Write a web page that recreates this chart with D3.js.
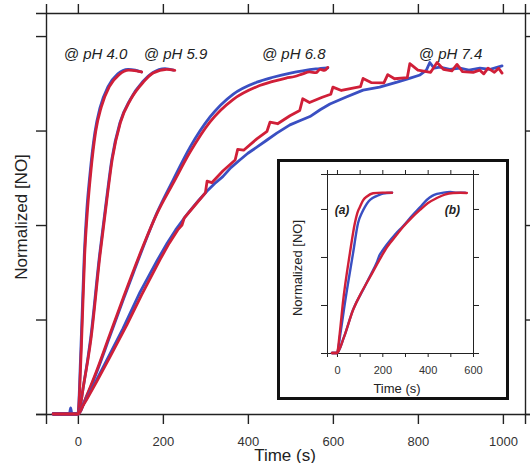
<!DOCTYPE html>
<html><head><meta charset="utf-8">
<script src="https://cdn.jsdelivr.net/npm/d3@7"></script>
<style>body{margin:0;background:#fff}svg{display:block}text{font-family:"Liberation Sans",Arial,sans-serif}</style>
</head><body><svg id="c" width="530" height="463"></svg>
<script>
// ---------- data (time in s, normalized [NO]) ----------
const xTicksMain = [0, 200, 400, 600, 800, 1000];
const yTicksMain = [0, 0.25, 0.5, 0.75, 1.0];
const labels = ["@ pH 4.0", "@ pH 5.9", "@ pH 6.8", "@ pH 7.4"];
const labelT = [-33, 155, 433, 802];

const ph40Blue = [[-58,0],[-20,0],[-17,0.016],[-14,0],[0,0],[7,0.17],[15,0.42],[21,0.54],[28,0.63],[40,0.745],[52,0.81],[71,0.866],[94,0.9],[118,0.912],[135,0.91],[150,0.905]];
const ph40Red  = [[-58,0],[0,0],[8,0.17],[16,0.42],[23,0.545],[30,0.635],[42,0.748],[55,0.812],[74,0.866],[97,0.898],[120,0.91],[138,0.908],[150,0.905]];
const ph59Blue = [[-58,0],[0,0],[14,0.08],[30,0.2],[51,0.42],[67,0.565],[80,0.675],[99,0.771],[123,0.832],[153,0.88],[176,0.903],[205,0.914],[225,0.91]];
const ph59Red  = [[-58,0],[0,0],[14,0.08],[31,0.2],[52,0.42],[68,0.565],[81,0.675],[100,0.771],[124,0.832],[154,0.878],[177,0.902],[209,0.912],[228,0.909]];
const ph68Blue = [[-58,0],[0,0],[20,0.045],[44,0.11],[75,0.205],[106,0.3],[130,0.372],[153,0.44],[186,0.532],[224,0.619],[264,0.706],[311,0.786],[365,0.846],[421,0.878],[459,0.891],[500,0.902],[529,0.908],[560,0.913],[588,0.916]];
const ph68Red  = [[-58,0],[0,0],[20,0.047],[44,0.114],[75,0.21],[106,0.305],[153,0.443],[186,0.53],[224,0.61],[264,0.693],[311,0.773],[365,0.832],[421,0.866],[459,0.88],[490,0.889],[510,0.893],[529,0.9],[545,0.905],[560,0.903],[570,0.912],[580,0.909],[588,0.917]];
const ph74Blue = [[-58,0],[0,0],[20,0.04],[44,0.09],[75,0.158],[106,0.226],[146,0.322],[186,0.405],[210,0.452],[230,0.487],[250,0.518],[264,0.538],[284,0.565],[304,0.59],[322,0.61],[341,0.628],[360,0.652],[381,0.672],[400,0.69],[421,0.706],[445,0.725],[468,0.743],[499,0.765],[522,0.776],[546,0.787],[570,0.805],[593,0.82],[630,0.838],[671,0.857],[710,0.865],[751,0.878],[780,0.888],[805,0.897],[820,0.91],[828,0.93],[838,0.915],[852,0.918],[875,0.912],[899,0.915],[920,0.91],[946,0.915],[970,0.912],[998,0.921]];
const ph74Red  = [[-58,0],[0,0],[20,0.037],[44,0.085],[75,0.15],[115,0.235],[150,0.315],[193,0.408],[215,0.452],[235,0.487],[245,0.5],[250,0.518],[270,0.545],[300,0.585],[304,0.616],[315,0.612],[341,0.643],[370,0.672],[376,0.7],[390,0.698],[421,0.728],[445,0.748],[452,0.772],[470,0.768],[499,0.789],[522,0.803],[529,0.834],[545,0.824],[575,0.838],[595,0.846],[600,0.865],[620,0.856],[650,0.863],[665,0.866],[671,0.888],[690,0.877],[720,0.876],[729,0.898],[745,0.887],[775,0.89],[781,0.927],[800,0.91],[830,0.904],[845,0.93],[860,0.912],[880,0.908],[892,0.925],[905,0.906],[930,0.904],[945,0.91],[955,0.9],[965,0.915],[980,0.904],[990,0.915],[998,0.902]];

// inset
const xTicksInset = [0, 200, 400, 600];
const xMinorInset = [0, 100, 200, 300, 400, 500, 600];
const yTicksInset = [0, 0.25, 0.5, 0.75];
const insetA_Blue = [[-22,0],[0,0],[15,0.1],[35,0.26],[71,0.52],[93,0.677],[110,0.73],[124,0.762],[140,0.79],[159,0.808],[180,0.82],[203,0.83],[243,0.834]];
const insetA_Red  = [[-22,0],[0,0],[12,0.1],[26,0.26],[57,0.52],[79,0.677],[90,0.73],[101,0.76],[115,0.795],[132,0.815],[159,0.832],[200,0.835],[243,0.834]];
const insetB_Blue = [[-22,0],[0,0],[30,0.08],[71,0.226],[120,0.34],[150,0.41],[175,0.47],[187,0.508],[202,0.535],[221,0.566],[260,0.622],[291,0.66],[330,0.713],[366,0.758],[397,0.798],[420,0.818],[441,0.828],[470,0.835],[500,0.838],[530,0.834],[565,0.835]];
const insetB_Red  = [[-22,0],[0,0],[30,0.08],[71,0.224],[110,0.32],[146,0.396],[185,0.48],[221,0.552],[260,0.61],[291,0.656],[330,0.705],[366,0.745],[400,0.78],[441,0.807],[475,0.825],[512,0.833],[545,0.834],[573,0.833]];

// ---------- drawing ----------
const svg = d3.select("#c");
const BLUE = "#3a4fc2", RED = "#d01f38", AX = "#222";

// main scales
const x = d3.scaleLinear().domain([-75, 1052]).range([46, 525]);
const y = d3.scaleLinear().domain([0, 1.061]).range([414, 13]);

const g = svg.append("g");
const axBottom = g.append("g").attr("transform", `translate(0,${y(0)})`)
  .call(d3.axisBottom(x).tickValues(xTicksMain).tickSize(10).tickPadding(13).tickFormat(d3.format("d")));
const axTop = g.append("g").attr("transform", `translate(0,${y(1.061)})`)
  .call(d3.axisTop(x).tickValues(xTicksMain).tickSize(9).tickFormat(""));
const axLeft = g.append("g").attr("transform", `translate(${x(-75)},0)`)
  .call(d3.axisLeft(y).tickValues(yTicksMain).tickSize(10).tickFormat(""));
const axRight = g.append("g").attr("transform", `translate(${x(1052)},0)`)
  .call(d3.axisRight(y).tickValues(yTicksMain).tickSize(10).tickFormat(""));
[axBottom, axTop, axLeft, axRight].forEach(a => {
  a.selectAll(".domain").attr("stroke", AX).attr("stroke-width", 1.4);
  a.selectAll(".tick line").attr("stroke", AX).attr("stroke-width", 1.4);
});
axBottom.selectAll(".tick text").attr("font-size", 13).attr("fill", "#333")
  .attr("font-family", '"Liberation Sans",Arial,sans-serif');

g.append("text").attr("x", 285).attr("y", 461).attr("text-anchor", "middle")
  .attr("font-size", 17).attr("fill", AX).text("Time (s)");
g.append("text").attr("transform", "translate(27,217) rotate(-90)").attr("text-anchor", "middle")
  .attr("font-size", 17).attr("fill", AX).text("Normalized [NO]");

// curves
const lineM = d3.line().x(d => x(d[0])).y(d => y(d[1]));
const smooth = d3.line().x(d => x(d[0])).y(d => y(d[1])).curve(d3.curveMonotoneX);
const series = [
  [ph40Blue, BLUE, smooth], [ph40Red, RED, smooth],
  [ph59Blue, BLUE, smooth], [ph59Red, RED, smooth],
  [ph68Blue, BLUE, smooth], [ph68Red, RED, smooth],
  [ph74Blue, BLUE, lineM], [ph74Red, RED, lineM]
];
series.forEach(([d, c, gen]) => {
  g.append("path").attr("d", gen(d)).attr("fill", "none").attr("stroke", c)
    .attr("stroke-width", 2.8).attr("stroke-linejoin", "round").attr("stroke-linecap", "round");
});

labels.forEach((t, i) => {
  g.append("text").attr("x", x(labelT[i])).attr("y", 59).attr("font-size", 15)
    .attr("font-style", "italic").attr("fill", AX).text(t);
});

// inset
const ib = svg.append("g");
ib.append("rect").attr("x", 278.5).attr("y", 160.5).attr("width", 229).attr("height", 238)
  .attr("fill", "#fff").attr("stroke", "#111").attr("stroke-width", 3);

const xi = d3.scaleLinear().domain([-44, 600]).range([327, 473]);
const yi = d3.scaleLinear().domain([0, 0.932]).range([353, 174]);

const ibot = ib.append("g").attr("transform", `translate(0,${yi(0)})`)
  .call(d3.axisBottom(xi).tickValues(xMinorInset).tickSize(4).tickFormat(""));
const ibotL = ib.append("g").attr("transform", `translate(0,${yi(0)})`)
  .call(d3.axisBottom(xi).tickValues(xTicksInset).tickSize(0).tickPadding(13).tickFormat(d3.format("d")));
ibotL.select(".domain").remove();
const itop = ib.append("g").attr("transform", `translate(0,${yi(0.932)})`)
  .call(d3.axisTop(xi).tickValues(xMinorInset).tickSize(4).tickFormat(""));
const ileft = ib.append("g").attr("transform", `translate(${xi(-44)},0)`)
  .call(d3.axisLeft(yi).tickValues(yTicksInset).tickSize(6).tickFormat(""));
const iright = ib.append("g").attr("transform", `translate(${xi(600)},0)`)
  .call(d3.axisRight(yi).tickValues(yTicksInset).tickSize(6).tickFormat(""));
[ibot, itop, ileft, iright].forEach(a => {
  a.selectAll(".domain").attr("stroke", AX).attr("stroke-width", 1);
  a.selectAll(".tick line").attr("stroke", AX).attr("stroke-width", 1);
});
ibotL.selectAll(".tick text").attr("font-size", 11).attr("fill", "#333")
  .attr("font-family", '"Liberation Sans",Arial,sans-serif');

ib.append("text").attr("x", 397).attr("y", 393).attr("text-anchor", "middle")
  .attr("font-size", 13).attr("fill", AX).text("Time (s)");
ib.append("text").attr("transform", "translate(302,268) rotate(-90)").attr("text-anchor", "middle")
  .attr("font-size", 13).attr("fill", AX).text("Normalized [NO]");
ib.append("text").attr("x", xi(-10)).attr("y", yi(0.75) + 5).attr("font-size", 12)
  .attr("font-style", "italic").attr("font-weight", "bold").attr("fill", AX).text("(a)");
ib.append("text").attr("x", xi(475)).attr("y", yi(0.75) + 5).attr("font-size", 12)
  .attr("font-style", "italic").attr("font-weight", "bold").attr("fill", AX).text("(b)");

const lineI = d3.line().x(d => xi(d[0])).y(d => yi(d[1])).curve(d3.curveMonotoneX);
[[insetA_Blue, BLUE], [insetB_Blue, BLUE], [insetA_Red, RED], [insetB_Red, RED]].forEach(([d, c]) => {
  ib.append("path").attr("d", lineI(d)).attr("fill", "none").attr("stroke", c)
    .attr("stroke-width", 2.4).attr("stroke-linejoin", "round").attr("stroke-linecap", "round");
});
</script></body></html>
